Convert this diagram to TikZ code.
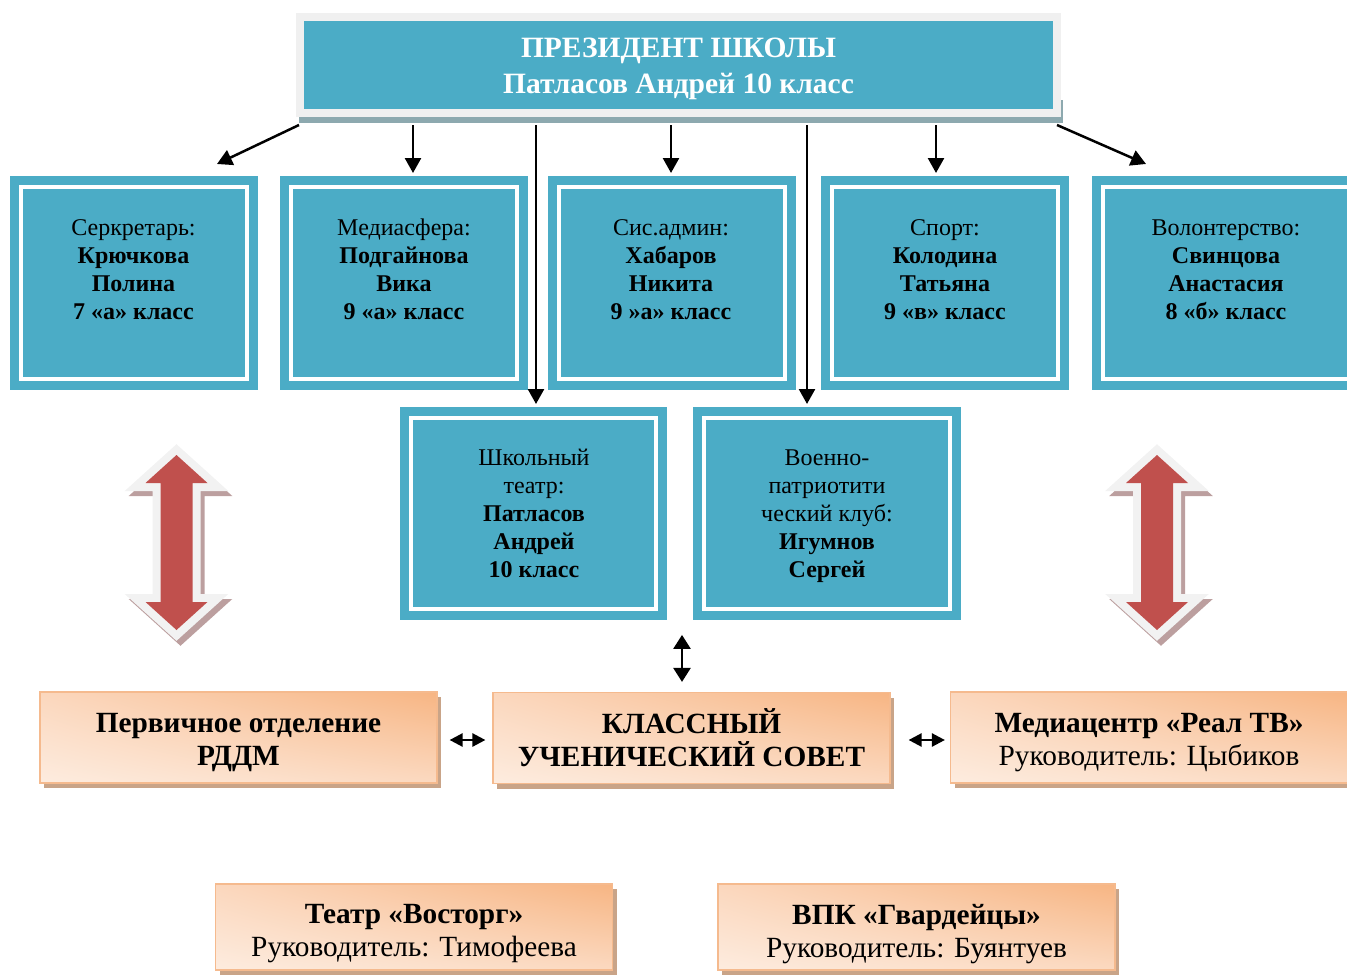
\documentclass[tikz,border=0pt]{standalone}
\usepackage{fontspec}
\setmainfont{Liberation Serif}
\usetikzlibrary{arrows.meta,shadows,shadings,calc}
\definecolor{boxblue}{HTML}{4BACC6}
\definecolor{presframe}{HTML}{F0F0F0}
\definecolor{presshadow}{HTML}{8DA9AF}
\definecolor{arrred}{HTML}{C0504D}
\definecolor{arrrim}{HTML}{F2F2F2}
\definecolor{arrshadow}{HTML}{BC9F9F}
\definecolor{orA}{HTML}{F7B583}
\definecolor{orB}{HTML}{FBD7BD}
\definecolor{orC}{HTML}{FDECDF}
\definecolor{orD}{HTML}{FBD9C0}
\definecolor{orborder}{HTML}{F5BA8E}
\definecolor{orshadow}{HTML}{C9A488}
\begin{document}
\begin{tikzpicture}[x=1pt,y=-1pt,
  pres/.style={fill=boxblue, draw=presframe, line width=8pt, minimum width=757pt,
    minimum height=96pt, inner sep=0pt},
  prestext/.style={text=white, align=center, inner sep=0pt,
    font=\bfseries\fontsize{29.5}{36}\selectfont},
  bluebox/.style={fill=boxblue, draw=white, line width=4pt,
    preaction={draw=boxblue, line width=22pt}, outer sep=11pt, inner sep=0pt,
    minimum width=226pt, minimum height=192pt},
  btext/.style={align=center, inner sep=0pt, font=\fontsize{24}{28}\selectfont},
  obox/.style={upper right=orA, upper left=orB, lower left=orC, lower right=orD,
    draw=orborder, line width=1.2pt, minimum width=397pt, minimum height=91pt,
    inner sep=0pt,
    drop shadow={shadow xshift=4pt, shadow yshift=-5pt, fill=orshadow, opacity=1}},
  otext/.style={align=center, inner sep=0pt, font=\fontsize{29.3}{33}\selectfont},
  parr/.style={line width=2.5pt, -{Triangle[length=15pt,width=16pt]}},
  varr/.style={line width=2.5pt, {Triangle[length=14pt,width=17pt]}-{Triangle[length=14pt,width=17pt]}},
  harr/.style={line width=2.5pt, {Triangle[length=13pt,width=13pt]}-{Triangle[length=13pt,width=13pt]}},
  bigarrow/.pic={
    \path[fill=arrshadow, draw=arrshadow, line width=16pt, shift={(4,5)}]
      (0,-87.5) -- (31,-59.5) -- (16,-59.5) -- (16,59.5) -- (31,59.5) -- (0,87.5)
      -- (-31,59.5) -- (-16,59.5) -- (-16,-59.5) -- (-31,-59.5) -- cycle;
    \path[fill=arrred, preaction={draw=arrrim, line width=16pt}]
      (0,-87.5) -- (31,-59.5) -- (16,-59.5) -- (16,59.5) -- (31,59.5) -- (0,87.5)
      -- (-31,59.5) -- (-16,59.5) -- (-16,-59.5) -- (-31,-59.5) -- cycle;
  }]
\useasboundingbox (0,0) rectangle (1347,977);
\clip (0,0) rectangle (1347,977);

% President
\fill[presshadow] (299,100) rectangle (1063,123);
\node[pres] (P) at (678.5,65) {};
\node[prestext] (PT) at (678.5,69) {ПРЕЗИДЕНТ ШКОЛЫ\\Патласов Андрей 10 класс};

% Top row
\node[bluebox] (B1) at (133.5,283) {};
\node[bluebox] (B2) at (404,283) {};
\node[bluebox] (B3) at (672,283) {};
\node[bluebox] (B4) at (944.5,283) {};
\node[bluebox, minimum width=246pt] (B5) at (1226,283) {};
\node[btext] (T1) at (133.5,269.5) {Серкретарь:\\\textbf{Крючкова}\\\textbf{Полина}\\\textbf{7 «а» класс}};
\node[btext] (T2) at (404,269.5) {Медиасфера:\\\textbf{Подгайнова}\\\textbf{Вика}\\\textbf{9 «а» класс}};
\node[btext] (T3) at (671,269.5) {Сис.админ:\\\textbf{Хабаров}\\\textbf{Никита}\\\textbf{9 »а» класс}};
\node[btext] (T4) at (945,269.5) {Спорт:\\\textbf{Колодина}\\\textbf{Татьяна}\\\textbf{9 «в» класс}};
\node[btext] (T5) at (1226,269.5) {Волонтерство:\\\textbf{Свинцова}\\\textbf{Анастасия}\\\textbf{8 «б» класс}};

% Middle row
\node[bluebox, minimum width=245pt, minimum height=191pt] (B6) at (533.5,513.5) {};
\node[bluebox, minimum width=246pt, minimum height=191pt] (B7) at (827,513.5) {};
\node[btext] (T6) at (534,513) {Школьный\\театр:\\\textbf{Патласов}\\\textbf{Андрей}\\\textbf{10 класс}};
\node[btext] (T7) at (827,516) {Военно-\\патриотити\\ческий клуб:\\\textbf{Игумнов}\\\textbf{Сергей}};

% Arrows from president
\coordinate (a1) at ([shift={(3,8)}]P.south west);
\coordinate (a2) at ([shift={(117,8)}]P.south west);
\coordinate (a3) at ([shift={(240,8)}]P.south west);
\coordinate (a4) at ([shift={(375,8)}]P.south west);
\coordinate (a5) at ([shift={(511,8)}]P.south west);
\coordinate (a6) at ([shift={(640,8)}]P.south west);
\coordinate (a7) at ([shift={(761,8)}]P.south west);
\draw[parr] (a1) -- ([shift={(83.5,-12)}]B1.north);
\draw[parr] (a2) -- ([shift={(9,-3)}]B2.north);
\draw[parr] (a3) -- ([shift={(2.5,-3)}]B6.north);
\draw[parr] (a4) -- ([shift={(-1,-3)}]B3.north);
\draw[parr] (a5) -- ([shift={(-20,-3)}]B7.north);
\draw[parr] (a6) -- ([shift={(-8.5,-3)}]B4.north);
\draw[parr] (a7) -- ([shift={(-80,-12)}]B5.north);

% Big red arrows
\pic (LA) at (176.5,542.5) {bigarrow};
\pic (RA) at (1157,542.5) {bigarrow};

% Orange boxes
\node[obox] (O1) at (238.5,737.5) {};
\node[obox] (O2) at (691.5,738) {};
\node[obox] (O3) at (1149,737.5) {};
\node[obox, minimum height=86pt] (O4) at (414,927) {};
\node[obox, minimum height=86pt] (O5) at (916.5,927) {};
\node[otext] (OT1) at (238.5,742.5) {\textbf{Первичное отделение}\\\textbf{РДДМ}};
\node[otext] (OT2) at (691.5,737.5) {\textbf{КЛАССНЫЙ}\\\textbf{УЧЕНИЧЕСКИЙ СОВЕТ}};
\node[otext] (OT3) at (1149,742.5) {\textbf{Медиацентр «Реал ТВ»}\\Руководитель: Цыбиков};
\node[otext] (OT4) at (414,934) {\textbf{Театр «Восторг»}\\Руководитель: Тимофеева};
\node[otext] (OT5) at (916.5,934) {\textbf{ВПК «Гвардейцы»}\\Руководитель: Буянтуев};

% Small arrows
\coordinate (k1) at ([shift={(-9.5,-57)}]O2.north);
\draw[varr] (k1) -- ([shift={(-9.5,-10)}]O2.north);
\draw[harr, shorten <=12pt, shorten >=7pt] ([yshift=-2.5pt]O1.east) -- ([yshift=-2pt]O2.west);
\draw[harr, shorten <=18pt, shorten >=5pt] ([yshift=-2pt]O2.east) -- ([yshift=-2.5pt]O3.west);
\end{tikzpicture}
\end{document}
